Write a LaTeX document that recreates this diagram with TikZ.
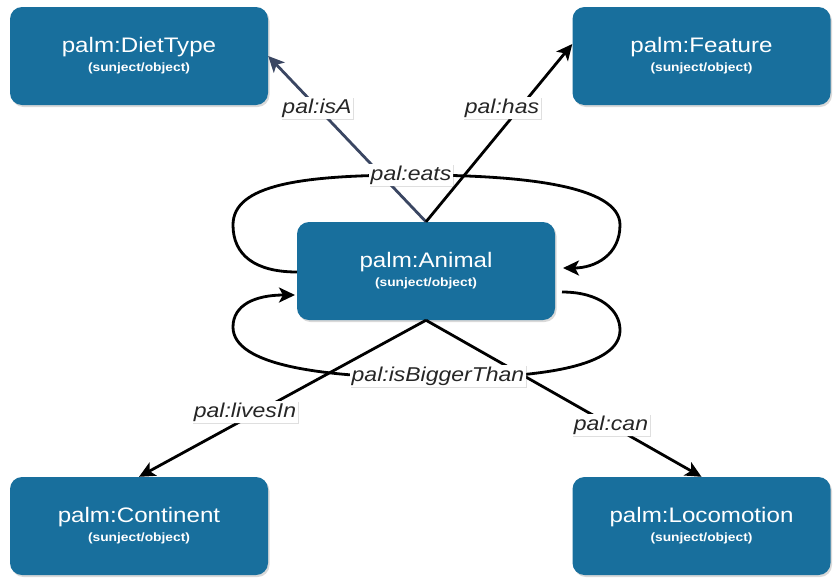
\documentclass[tikz,border=0pt]{standalone}
\usepackage{fontspec}
\setmainfont{Liberation Sans}[FakeStretch=1.15]
\usetikzlibrary{arrows.meta,shadows}
\definecolor{boxblue}{RGB}{24,111,157}
\definecolor{isacol}{RGB}{58,70,98}
\newcommand\mybox[1]{{\fontsize{21}{23}\selectfont palm:#1}\\[5pt]{\fontsize{12}{14}\selectfont\bfseries (sunject/object)}}
\begin{document}
\begin{tikzpicture}[x=1pt,y=-1pt,
  box/.style={rounded corners=12pt, fill=boxblue, text=white, minimum width=258pt,
    minimum height=98pt, align=center, inner sep=0pt,
    drop shadow={shadow xshift=1.5pt,shadow yshift=-2pt,opacity=0.3}},
  lbl/.style={fill=white, text=black!85, font=\fontsize{20}{22}\selectfont\itshape,
    inner sep=1.5pt, drop shadow={shadow xshift=1pt,shadow yshift=-1pt,opacity=0.25}},
  edge/.style={line width=2.8pt, -{Stealth[length=16pt,width=15pt,inset=4pt]}}]
\useasboundingbox (0,0) rectangle (836,579);
% boxes
\node[box] (diet) at (139,56) {\mybox{DietType}};
\node[box] (feat) at (701.5,56) {\mybox{Feature}};
\node[box] (anim) at (426,271) {\mybox{Animal}};
\node[box] (cont) at (139,526) {\mybox{Continent}};
\node[box] (loco) at (701.5,526) {\mybox{Locomotion}};
% coordinates for loop ends
\coordinate (eatsS) at (297,272);
\coordinate (eatsE) at (563,268);
\coordinate (bigS) at (562,292);
\coordinate (bigE) at (295,295);
% loops
\draw[edge] (eatsS) .. controls (255,272) and (233,255) .. (233,225)
  .. controls (233,185) and (300,175) .. (413,175)
  .. controls (520,175) and (620,185) .. (620,225)
  .. controls (620,255) and (595,268) .. (eatsE);
\draw[edge] (bigS) .. controls (600,292) and (620,310) .. (620,330)
  .. controls (620,362) and (560,378) .. (440,378)
  .. controls (320,378) and (233,365) .. (233,327)
  .. controls (233,305) and (255,295) .. (bigE);
% straight edges
\draw[edge, draw=isacol] (anim.north) -- (diet.east);
\draw[edge] (anim.north) -- ([yshift=12pt]feat.west);
\draw[edge] (anim.south) -- (cont.north);
\draw[edge] (anim.south) -- (loco.north);
% labels
\node[lbl] (lisa) at (317,108) {pal:isA};
\node[lbl] (lhas) at (502,108) {pal:has};
\node[lbl] (leats) at (411,175) {pal:eats};
\node[lbl] (lbig) at (438,376) {pal:isBiggerThan};
\node[lbl] (lliv) at (245,412) {pal:livesIn};
\node[lbl] (lcan) at (611,425) {pal:can};
\end{tikzpicture}
\end{document}
